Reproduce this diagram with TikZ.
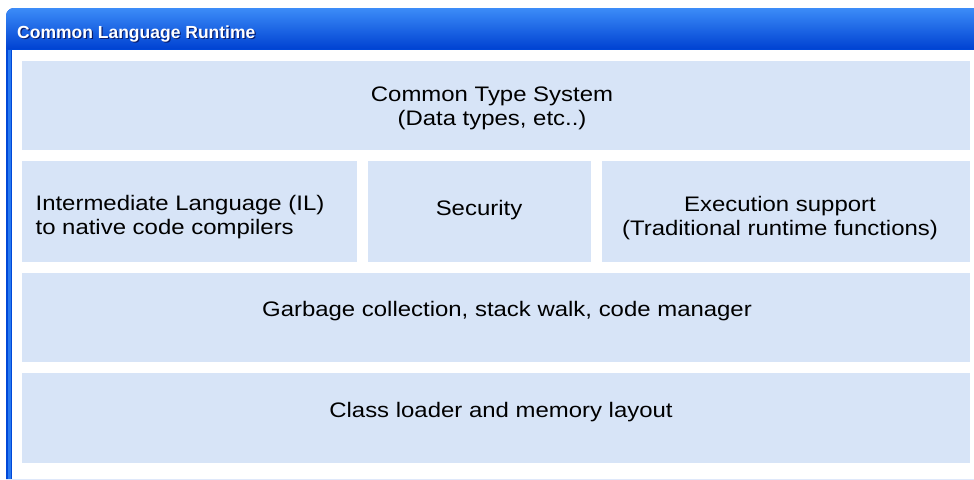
\documentclass[tikz,border=0pt]{standalone}
\usepackage{fontspec}
\setmainfont{Liberation Sans}
\newfontfamily\bodyfont[FakeStretch=1.14]{Liberation Sans}
\definecolor{boxblue}{RGB}{215,228,247}
\definecolor{framedark}{RGB}{0,72,216}
\definecolor{framelight}{RGB}{40,120,240}
\definecolor{bartop}{RGB}{60,140,248}
\definecolor{barmid}{RGB}{8,92,234}
\definecolor{barbot}{RGB}{0,66,210}
\definecolor{shadowblue}{RGB}{10,30,110}
\begin{document}
\begin{tikzpicture}[x=1pt, y=-1pt,
    layer/.style={fill=boxblue, anchor=north west, inner sep=0pt, outer sep=0pt},
    layertext/.style={font=\bodyfont\fontsize{21}{24}\selectfont, align=center},
    titletext/.style={font=\bfseries\fontsize{17.5}{20}\selectfont, anchor=base west, inner sep=0pt}]
        \useasboundingbox (0,0) rectangle (974,479);

        % Window frame (left border)
        \fill[framedark] (6,479) [rounded corners=8pt] -- (6,8) [sharp corners] -- (974,8) -- (974,479) -- cycle;
        \fill[framelight] (7.5,50) rectangle (10.5,479);

        % Title bar
        \shade[top color=bartop, middle color=barmid, bottom color=barbot]
            (6,49) [rounded corners=8pt] -- (6,8) [sharp corners] -- (974,8) -- (974,49) -- cycle;
        \fill[white] (12,50) rectangle (974,479);
        \node[titletext, text=shadowblue] (TS) at (18.2,39.2) {Common Language Runtime};
        \node[titletext, text=white] (T) at (17,38) {Common Language Runtime};

        % Layers (boxes)
        \node[layer, minimum width=948pt, minimum height=89pt] (CTS) at (22,61) {};
        \node[layer, minimum width=335pt, minimum height=101pt] (IL) at (22,161) {};
        \node[layer, minimum width=223pt, minimum height=101pt] (SEC) at (368,161) {};
        \node[layer, minimum width=368pt, minimum height=101pt] (EXE) at (602,161) {};
        \node[layer, minimum width=948pt, minimum height=89pt] (GC) at (22,273) {};
        \node[layer, minimum width=948pt, minimum height=90pt] (CL) at (22,373) {};

        % Layer labels
        \node[layertext] (CTSL) at (492,108) {Common Type System\\(Data types, etc..)};
        \node[layertext, align=left] (ILL) at (180,217) {Intermediate Language (IL)\\to native code compilers};
        \node[layertext] (SECL) at (479,210.5) {Security};
        \node[layertext] (EXEL) at (780,218) {Execution support\\(Traditional runtime functions)};
        \node[layertext] (GCL) at (507,311.5) {Garbage collection, stack walk, code manager};
        \node[layertext] (CLL) at (501,412) {Class loader and memory layout};

    \end{tikzpicture}
\end{document}
